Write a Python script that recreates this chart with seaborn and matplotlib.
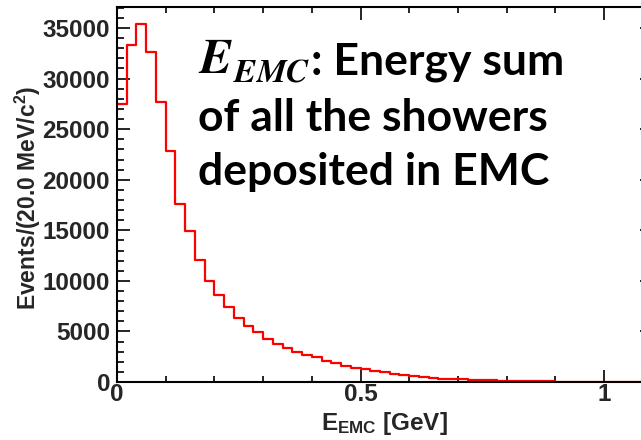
import numpy as np
import pandas as pd
import matplotlib
matplotlib.use("Agg")
import matplotlib.pyplot as plt
import seaborn as sns
from matplotlib.ticker import MultipleLocator, FixedLocator

# ---------------- data ----------------
bin_width = 0.02  # GeV (20.0 MeV)
counts = [27500, 33300, 35350, 32600, 27700, 22850, 17650, 14950, 12100, 9950,
          8650, 7400, 6350, 5550, 4950, 4300, 3750, 3350, 3000, 2700,
          2450, 2100, 1850, 1600, 1400, 1250, 1100, 950, 800, 680,
          580, 480, 400, 340, 290, 250, 210, 180, 150, 125,
          105, 90, 75, 62, 52, 44, 37, 31, 26, 22,
          18, 15, 12, 10, 8]
bin_edges = [round(i * bin_width, 4) for i in range(len(counts) + 1)]
bin_centers = [e + bin_width / 2 for e in bin_edges[:-1]]

x_ticks = [0, 0.5, 1]
x_tick_labels = ["0", "0.5", "1"]
y_ticks = [0, 5000, 10000, 15000, 20000, 25000, 30000, 35000]
y_tick_labels = ["0", "5000", "10000", "15000", "20000", "25000", "30000", "35000"]

x_title = r"E$_{\rm EMC}$ [GeV]"
y_title = r"Events/(20.0 MeV/c$^{\rm 2}$)"
note_symbol = r"$\mathbfit{E}$"
note_sub = r"$\mathbfit{EMC}$"
note_lines = [": Energy sum", "of all the showers", "deposited in EMC"]

# ---------------- style ----------------
sns.set_style("ticks")
plt.rcParams['font.family'] = ['Liberation Sans', 'DejaVu Sans']
plt.rcParams['font.weight'] = 'bold'
plt.rcParams['mathtext.fontset'] = 'custom'
plt.rcParams['mathtext.rm'] = 'Liberation Sans:bold'
plt.rcParams['mathtext.it'] = 'Liberation Sans:bold'
plt.rcParams['mathtext.bf'] = 'Liberation Sans:bold'

W, H = 641, 440
fig = plt.figure(figsize=(W / 100, H / 100), dpi=100)
fig.patch.set_facecolor("white")
ax = fig.add_axes([117 / W, 58 / H, 535.7 / W, 375 / H])
ax.set_facecolor("white")

df = pd.DataFrame({"E": bin_centers, "n": counts})
sns.histplot(data=df, x="E", weights="n", bins=bin_edges, element="step",
             fill=False, color="#ff0000", linewidth=1.6, ax=ax)

ax.set_xlim(0, 1.1)
ax.set_ylim(0, 37080)

ax.xaxis.set_major_locator(FixedLocator(x_ticks))
ax.set_xticklabels(x_tick_labels)
ax.xaxis.set_minor_locator(MultipleLocator(0.1))
ax.yaxis.set_major_locator(FixedLocator(y_ticks))
ax.set_yticklabels(y_tick_labels)
ax.yaxis.set_minor_locator(MultipleLocator(1000))

for s in ax.spines.values():
    s.set_visible(True)
    s.set_linewidth(1.5)
    s.set_color("black")

ax.tick_params(which="both", direction="in", top=True, right=True,
               color="black", width=1.2)
ax.tick_params(axis="x", which="major", length=9, pad=1, labelsize=17.5)
ax.tick_params(axis="x", which="minor", length=4.5)
ax.tick_params(axis="y", which="major", length=9.5, pad=5, labelsize=17.5)
ax.tick_params(axis="y", which="minor", length=5)
for lab in ax.get_xticklabels() + ax.get_yticklabels():
    lab.set_fontweight("bold")

ax.set_xlabel(x_title, fontsize=17.5, fontweight="bold")
ax.set_ylabel(y_title, fontsize=16.5, fontweight="bold")
ax.xaxis.set_label_coords(0.5, -0.075)
ax.yaxis.set_label_coords(-0.138, 0.49)

# annotation
fig.text(198 / W, (H - 73) / H, note_symbol, fontsize=35, math_fontfamily="stix",
         ha="left", va="baseline", color="black")
fig.text(233 / W, (H - 82) / H, note_sub, fontsize=24, math_fontfamily="stix",
         ha="left", va="baseline", color="black")
fig.text(311 / W, (H - 74) / H, note_lines[0], fontsize=32, family="Lato",
         fontweight="bold", ha="left", va="baseline", color="black")
fig.text(198 / W, (H - 131) / H, note_lines[1], fontsize=32, family="Lato",
         fontweight="bold", ha="left", va="baseline", color="black")
fig.text(198 / W, (H - 185) / H, note_lines[2], fontsize=32, family="Lato",
         fontweight="bold", ha="left", va="baseline", color="black")

fig.savefig("out.png", dpi=100)
